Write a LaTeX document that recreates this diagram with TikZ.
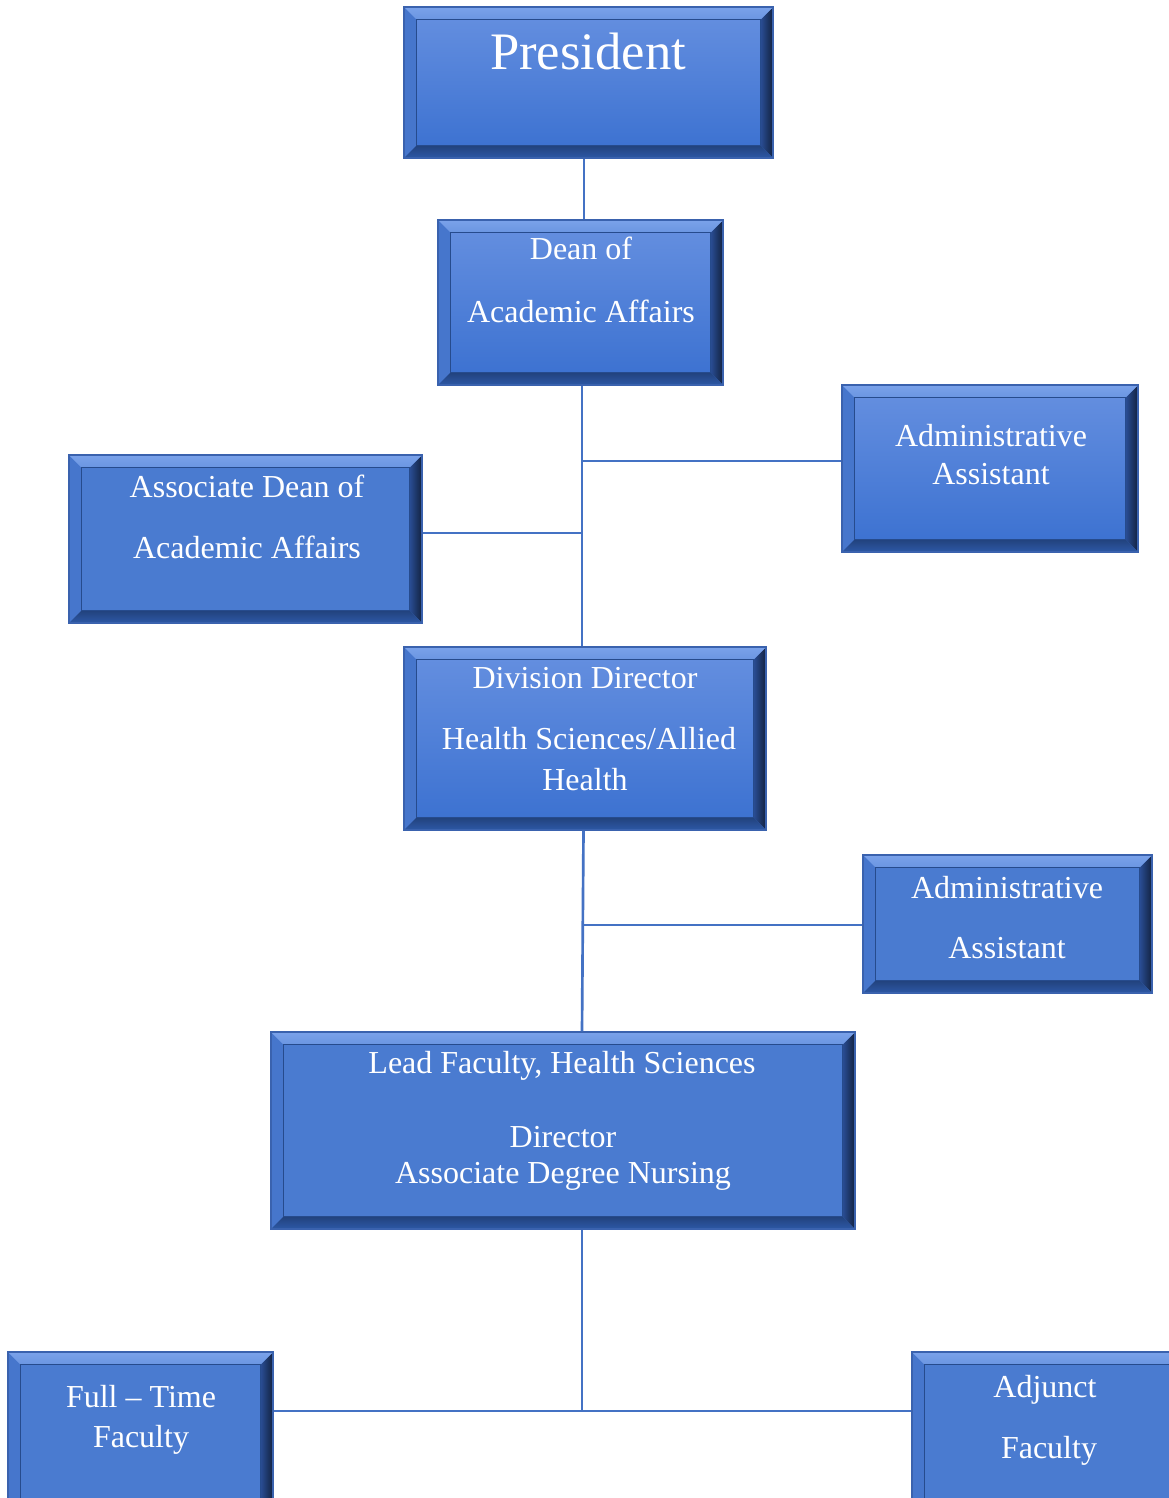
\documentclass[tikz,border=0pt]{standalone}
\usepackage{fontspec}
\setmainfont{Liberation Serif}
\usetikzlibrary{calc}
\definecolor{faceflat}{HTML}{4A7BD0}
\definecolor{facetop}{HTML}{6690E0}
\definecolor{facebot}{HTML}{3A70D0}
\definecolor{bvtop}{HTML}{7AA2EA}
\definecolor{bvleft}{HTML}{4676CC}
\definecolor{bvbot}{HTML}{2D58A6}
\definecolor{bvrightin}{HTML}{2A4E96}
\definecolor{bvrightout}{HTML}{12223F}
\definecolor{edgecol}{HTML}{3A62AE}
\definecolor{linecol}{HTML}{4472C4}
\newlength{\bvw}
\setlength{\bvw}{9.5pt}
\tikzset{
  bevel/.style={rectangle, draw=edgecol, line width=0.8pt, inner sep=0pt,
    path picture={
      \coordinate (ppNW) at (path picture bounding box.north west);
      \coordinate (ppNE) at (path picture bounding box.north east);
      \coordinate (ppSW) at (path picture bounding box.south west);
      \coordinate (ppSE) at (path picture bounding box.south east);
      \coordinate (ppiNW) at ([shift={(\bvw,-\bvw)}]ppNW);
      \coordinate (ppiNE) at ([shift={(-\bvw,-\bvw)}]ppNE);
      \coordinate (ppiSW) at ([shift={(\bvw,\bvw)}]ppSW);
      \coordinate (ppiSE) at ([shift={(-\bvw,\bvw)}]ppSE);
      \fill[bvleft] (ppNW) -- (ppiNW) -- (ppiSW) -- (ppSW) -- cycle;
      \shade[left color=bvrightin, right color=bvrightout] (ppNE) -- (ppiNE) -- (ppiSE) -- (ppSE) -- cycle;
      \shade[top color=bvbot!75!black, bottom color=bvbot] (ppSW) -- (ppiSW) -- (ppiSE) -- (ppSE) -- cycle;
      \shade[top color=bvtop, bottom color=bvtop!70!bvleft] (ppNW) -- (ppNE) -- (ppiNE) -- (ppiNW) -- cycle;
      \draw[bvbot!85!black, line width=0.4pt] (ppiNW) rectangle (ppiSE);
    }},
  flatbox/.style={bevel, fill=faceflat},
  gradbox/.style={bevel, top color=facetop, bottom color=facebot},
  txt/.style={text=white, inner sep=0pt, anchor=base, font=\fontsize{24}{28}\selectfont},
  conn/.style={draw=linecol, line width=2pt}
}
\begin{document}
\begin{tikzpicture}[x=0.75pt, y=-0.75pt]
\clip (0,0) rectangle (1169,1498);
\useasboundingbox (0,0) rectangle (1169,1498);
\fill[white] (0,0) rectangle (1169,1498);

% connector helper coordinates
\coordinate (s1) at (584,0);
\coordinate (s2) at (582,0);
\coordinate (j1) at (582,461);
\coordinate (j2) at (582,533);
\coordinate (j3) at (583.5,925);
\coordinate (j4) at (582,1411);

% boxes
\node[gradbox, minimum width=276.75pt, minimum height=113.25pt] (pres) at (588.5,82.5) {};
\node[gradbox, minimum width=213.75pt, minimum height=123.75pt] (dean) at (580.5,302.5) {};
\node[gradbox, minimum width=222pt, minimum height=125.25pt] (adm1) at (990,468.5) {};
\node[flatbox, minimum width=264.75pt, minimum height=126pt] (assoc) at (245.5,539) {};
\node[gradbox, minimum width=271.5pt, minimum height=137.25pt] (div) at (585,738.5) {};
\node[flatbox, minimum width=216.75pt, minimum height=103.5pt] (adm2) at (1007.5,924) {};
\node[flatbox, minimum width=438pt, minimum height=147.75pt] (lead) at (563,1130.5) {};
\node[flatbox, minimum width=198.75pt, minimum height=120pt] (full) at (140.5,1432) {};
\node[flatbox, minimum width=202.5pt, minimum height=120pt] (adj) at (1047,1432) {};

% connectors
\draw[conn] (pres.south -| s1) -- (dean.north -| s1);
\draw[conn] (dean.south -| s2) -- (div.north -| s2);
\draw[conn] (j1) -- (j1 -| adm1.west);
\draw[conn] (assoc.east |- j2) -- (j2);
\draw[conn] (div.south -| j3) -- (lead.north -| s2);
\draw[conn] (j3) -- (j3 -| adm2.west);
\draw[conn] (lead.south -| s2) -- (j4);
\draw[conn] (full.east |- j4) -- (j4 -| adj.west);

% texts
\node[txt, font=\fontsize{39.5}{44}\selectfont] (tpres) at (588,70) {President};
\node[txt] (tdean1) at (581,260) {Dean of};
\node[txt] (tdean2) at (581,322) {Academic Affairs};
\node[txt] (tadm1a) at (991,446) {Administrative};
\node[txt] (tadm1b) at (991,484) {Assistant};
\node[txt] (tassoc1) at (247,497) {Associate Dean of};
\node[txt] (tassoc2) at (247,558) {Academic Affairs};
\node[txt] (tdiv1) at (585,688) {Division Director};
\node[txt] (tdiv2) at (589,749) {Health Sciences/Allied};
\node[txt] (tdiv3) at (585,790) {Health};
\node[txt] (tadm2a) at (1007,898) {Administrative};
\node[txt] (tadm2b) at (1007,958) {Assistant};
\node[txt] (tlead1) at (562,1073) {Lead Faculty, Health Sciences};
\node[txt] (tlead2) at (563,1147) {Director};
\node[txt] (tlead3) at (563,1183) {Associate Degree Nursing};
\node[txt] (tfull1) at (141,1407) {Full – Time};
\node[txt] (tfull2) at (141,1447) {Faculty};
\node[txt] (tadj1) at (1045,1397) {Adjunct};
\node[txt] (tadj2) at (1049,1458) {Faculty};
\end{tikzpicture}
\end{document}
